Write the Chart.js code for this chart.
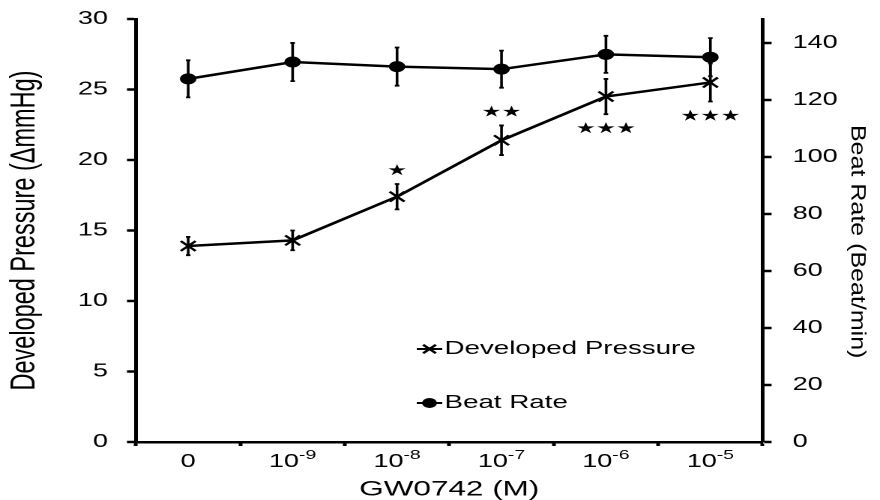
<!DOCTYPE html>
<html>
<head>
<meta charset="utf-8">
<script src="https://cdn.jsdelivr.net/npm/chart.js@4.4.0/dist/chart.umd.min.js"></script>
<style>
  html, body { margin: 0; padding: 0; background: #fff; overflow: hidden; }
  /* the scanned figure is stretched sideways, so draw it narrow and widen it */
  #wrap { width: 587px; height: 500px; transform: scaleX(1.4991); transform-origin: 0 0; }
</style>
</head>
<body>
<div id="wrap"><canvas id="gwChart"></canvas></div>
<script>
const STRETCH = 1.4991;

// GW0742 doses
const doses = ['0', '10⁻⁹', '10⁻⁸', '10⁻⁷', '10⁻⁶', '10⁻⁵'];
// Developed pressure (ΔmmHg), left axis
const pressure = [13.9, 14.3, 17.4, 21.4, 24.5, 25.5];
const pressureErr = [0.65, 0.7, 0.9, 1.05, 1.25, 1.35];
// Beat rate (beat/min), right axis
const beatRate = [127.4, 133.3, 131.7, 130.8, 136.0, 135.0];
const beatRateErr = [6.5, 6.7, 6.7, 6.5, 6.5, 6.7];
// significance marks on developed pressure
const stars = ['', '', '★', '★★', '★★★', '★★★'];
const starSide = ['', '', 'above', 'above', 'below', 'below'];
// axis ticks
const pressureTicks = [0, 5, 10, 15, 20, 25, 30];
const beatTicks = [0, 20, 40, 60, 80, 100, 120, 140];

Chart.defaults.font.family = "'Liberation Sans', Arial, sans-serif";
Chart.defaults.color = '#000';

const SUP = { '⁻': '-', '⁰': '0', '¹': '1', '²': '2', '³': '3', '⁴': '4', '⁵': '5', '⁶': '6', '⁷': '7', '⁸': '8', '⁹': '9' };

// vertical error bars with tiny caps
const errorBars = {
    id: 'errorBars',
    beforeDatasetsDraw(chart) {
        const ctx = chart.ctx;
        chart.data.datasets.forEach((ds, i) => {
            const meta = chart.getDatasetMeta(i);
            const yScale = chart.scales[ds.yAxisID];
            ctx.save();
            ctx.strokeStyle = '#000';
            ctx.lineWidth = 1.8;
            meta.data.forEach((pt, j) => {
                const top = yScale.getPixelForValue(ds.data[j] + ds.errors[j]);
                const bottom = yScale.getPixelForValue(ds.data[j] - ds.errors[j]);
                ctx.beginPath();
                ctx.moveTo(pt.x, top); ctx.lineTo(pt.x, bottom);
                ctx.moveTo(pt.x - 1.5, top); ctx.lineTo(pt.x + 1.5, top);
                ctx.moveTo(pt.x - 1.5, bottom); ctx.lineTo(pt.x + 1.5, bottom);
                ctx.stroke();
            });
            ctx.restore();
        });
    }
};

// asterisks over / under the pressure points
const sigMarks = {
    id: 'sigMarks',
    afterDatasetsDraw(chart) {
        const ctx = chart.ctx;
        const meta = chart.getDatasetMeta(0);
        const yScale = chart.scales.y;
        ctx.save();
        ctx.fillStyle = '#000';
        ctx.font = "15px 'DejaVu Sans'";
        ctx.textAlign = 'center';
        ctx.textBaseline = 'middle';
        meta.data.forEach((pt, j) => {
            if (!stars[j]) return;
            let y;
            if (starSide[j] === 'above') {
                y = yScale.getPixelForValue(pressure[j] + pressureErr[j]) - 13;
            } else {
                y = yScale.getPixelForValue(pressure[j] - pressureErr[j]) + 15;
            }
            ctx.fillText(stars[j], pt.x, y);
        });
        ctx.restore();
    }
};

// dose labels with a proper raised exponent
const doseLabels = {
    id: 'doseLabels',
    afterDraw(chart) {
        const ctx = chart.ctx;
        const xScale = chart.scales.x;
        const baseY = xScale.top + 25;
        ctx.save();
        ctx.fillStyle = '#000';
        ctx.textBaseline = 'alphabetic';
        ctx.textAlign = 'left';
        doses.forEach((label, i) => {
            const cut = label.search(/[⁻⁰¹²³⁴⁵⁶⁷⁸⁹]/);
            const base = cut < 0 ? label : label.slice(0, cut);
            const exp = cut < 0 ? '' : label.slice(cut).split('').map(c => SUP[c] || c).join('');
            ctx.font = "18px 'Liberation Sans', Arial, sans-serif";
            const wb = ctx.measureText(base).width;
            ctx.font = "13px 'Liberation Sans', Arial, sans-serif";
            const we = exp ? ctx.measureText(exp).width : 0;
            const x = xScale.getPixelForValue(i) - (wb + we) / 2;
            ctx.font = "18px 'Liberation Sans', Arial, sans-serif";
            ctx.fillText(base, x, baseY);
            if (exp) {
                ctx.font = "13px 'Liberation Sans', Arial, sans-serif";
                ctx.fillText(exp, x + wb, baseY - 8);
            }
        });
        ctx.restore();
    }
};

// legend sitting inside the plot
const innerLegend = {
    id: 'innerLegend',
    afterDraw(chart) {
        const ctx = chart.ctx;
        const x0 = 278, lineLen = 17, rowY = [349, 403];
        chart.data.datasets.forEach((ds, i) => {
            const y = rowY[i];
            ctx.save();
            ctx.strokeStyle = '#000';
            ctx.fillStyle = '#000';
            ctx.lineWidth = 2;
            ctx.beginPath();
            ctx.moveTo(x0, y); ctx.lineTo(x0 + lineLen, y);
            ctx.stroke();
            Chart.helpers.drawPoint(ctx, {
                pointStyle: ds.pointStyle,
                radius: ds.pointStyle === 'circle' ? 4 : 6,
                borderWidth: 1.5,
                rotation: 0
            }, x0 + lineLen / 2, y);
            ctx.font = "18.5px 'Liberation Sans', Arial, sans-serif";
            ctx.textAlign = 'left';
            ctx.textBaseline = 'middle';
            ctx.fillText(ds.label, x0 + lineLen + 1.5, y);
            ctx.restore();
        });
    }
};

// right axis title is not stretched in the source, so undo the widening
const rightTitle = {
    id: 'rightTitle',
    afterDraw(chart) {
        const ctx = chart.ctx;
        ctx.save();
        ctx.translate(568, 125);
        ctx.scale(0.84 / STRETCH, 1);
        ctx.rotate(Math.PI / 2);
        ctx.fillStyle = '#000';
        ctx.font = "25px 'Liberation Sans', Arial, sans-serif";
        ctx.textAlign = 'left';
        ctx.textBaseline = 'alphabetic';
        ctx.fillText('Beat Rate (Beat/min)', 0, 0);
        ctx.restore();
    }
};

// pin the axis boxes so the plot area lands where the figure has it
const pinY = w => s => { s.width = w; s.paddingTop = 0; s.paddingBottom = 0; };

const ctx = document.getElementById('gwChart').getContext('2d');
new Chart(ctx, {
    type: 'line',
    data: {
        labels: doses,
        datasets: [{
            label: 'Developed Pressure',
            data: pressure,
            errors: pressureErr,
            yAxisID: 'y',
            borderColor: '#000',
            backgroundColor: '#000',
            borderWidth: 2.5,
            pointStyle: 'crossRot',
            pointRadius: 7,
            pointBorderWidth: 2,
            tension: 0
        }, {
            label: 'Beat Rate',
            data: beatRate,
            errors: beatRateErr,
            yAxisID: 'y1',
            borderColor: '#000',
            backgroundColor: '#000',
            borderWidth: 2.5,
            pointStyle: 'circle',
            pointRadius: 5,
            pointBorderWidth: 1,
            tension: 0
        }]
    },
    options: {
        responsive: true,
        maintainAspectRatio: false,
        animation: false,
        devicePixelRatio: 2,
        layout: { autoPadding: false, padding: { top: 19, left: 0, right: 0, bottom: 0 } },
        plugins: {
            legend: { display: false },
            tooltip: { enabled: false }
        },
        scales: {
            x: {
                offset: true,
                grid: { offset: true, drawOnChartArea: false, tickLength: 4, tickWidth: 2.5, tickColor: '#000' },
                border: { color: '#000', width: 2.5 },
                ticks: { display: false },
                title: { display: true, text: 'GW0742 (M)', font: { size: 21, lineHeight: 1 }, padding: 0 },
                afterFit: s => { s.height = 58; s.paddingLeft = 0; s.paddingRight = 0; }
            },
            y: {
                position: 'left',
                min: 0,
                max: 30,
                afterBuildTicks: s => { s.ticks = pressureTicks.map(v => ({ value: v })); },
                grid: { drawOnChartArea: false, tickLength: 6, tickWidth: 2.5, tickColor: '#000' },
                border: { color: '#000', width: 2.5 },
                ticks: { font: { size: 18 }, padding: 12.7 },
                title: { display: true, text: 'Developed Pressure (ΔmmHg)', font: { size: 23.5, lineHeight: 1 }, padding: { top: 5, bottom: 0 } },
                afterFit: pinY(90.7)
            },
            y1: {
                position: 'right',
                min: 0,
                max: 148.4,
                afterBuildTicks: s => { s.ticks = beatTicks.map(v => ({ value: v })); },
                grid: { drawOnChartArea: false, tickLength: 6, tickWidth: 2.5, tickColor: '#000' },
                border: { color: '#000', width: 2.5 },
                ticks: { font: { size: 18 }, padding: 14 },
                afterFit: pinY(78.3)
            }
        }
    },
    plugins: [errorBars, sigMarks, doseLabels, innerLegend, rightTitle]
});
</script>
</body>
</html>
